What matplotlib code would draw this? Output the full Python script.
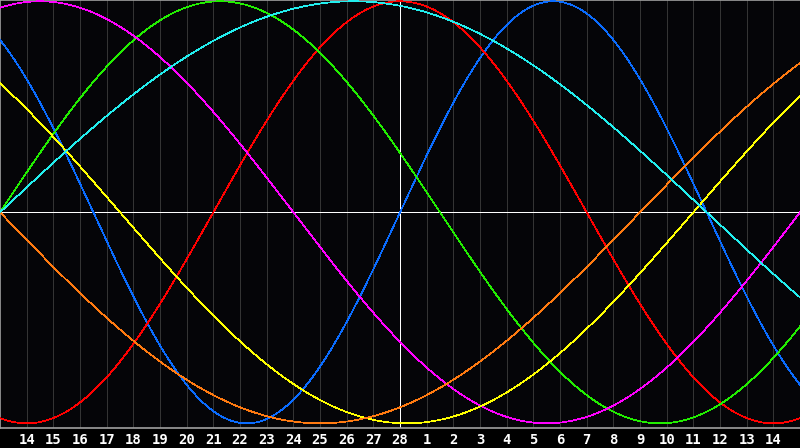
import numpy as np
import matplotlib
matplotlib.use("Agg")
import matplotlib.pyplot as plt

# Day labels (Feb 14 .. Feb 28, Mar 1 .. Mar 14); day index 0 = Feb 13 (left edge)
day_labels = [str(d) for d in range(14, 29)] + [str(d) for d in range(1, 15)]
n_days = 30            # axis spans day index 0..30
today_index = 15       # Feb 28, white vertical marker

# Cycles: period (days) and day index of the upward zero crossing
cycle_names   = ["physical", "emotional", "intellectual", "intuitive", "aesthetic", "awareness", "spiritual"]
cycle_periods = [23, 28, 33, 38, 43, 48, 53]
cycle_zero_up = [15, 8, 0, -8, -17, 24, 0]
cycle_colors  = ["#0a6cff", "#ff0000", "#22ee00", "#ff00ff", "#ffff00", "#ff7a10", "#22eeee"]

PX = 0.72  # one pixel in points at 100 dpi

fig = plt.figure(figsize=(8, 4.48), dpi=100, facecolor="#000000")
ax = fig.add_axes([0, 20 / 448, 1, 428 / 448])
ax.set_facecolor("#050508")

t = np.linspace(0, n_days, 1601)
for p, z, c in zip(cycle_periods, cycle_zero_up, cycle_colors):
    ax.plot(t, np.sin(2 * np.pi * (t - z) / p), color=c, lw=0.5, antialiased=False, zorder=3)

# day grid
for i in range(1, len(day_labels) + 1):
    ax.axvline(i, color="#343434", lw=PX, zorder=1, antialiased=False)

ax.axhline(0, color="#ffffff", lw=PX, zorder=2, antialiased=False)
ax.axvline(today_index, color="#ffffff", lw=PX, zorder=2, antialiased=False)

ax.set_xlim(0, n_days)
ax.set_ylim(-1.022, 1.006)

ax.set_xticks(range(1, len(day_labels) + 1))
ax.set_xticklabels(day_labels, fontfamily="DejaVu Sans Mono", fontweight="bold",
                   fontsize=10, color="white")
ax.tick_params(axis="x", length=0, pad=3.5)
ax.set_yticks([])

for side in ["left", "top", "bottom"]:
    ax.spines[side].set_color("#a0a0a0")
    ax.spines[side].set_linewidth(1.2)
ax.spines["right"].set_visible(False)

fig.savefig("out.png", dpi=100, facecolor=fig.get_facecolor())
